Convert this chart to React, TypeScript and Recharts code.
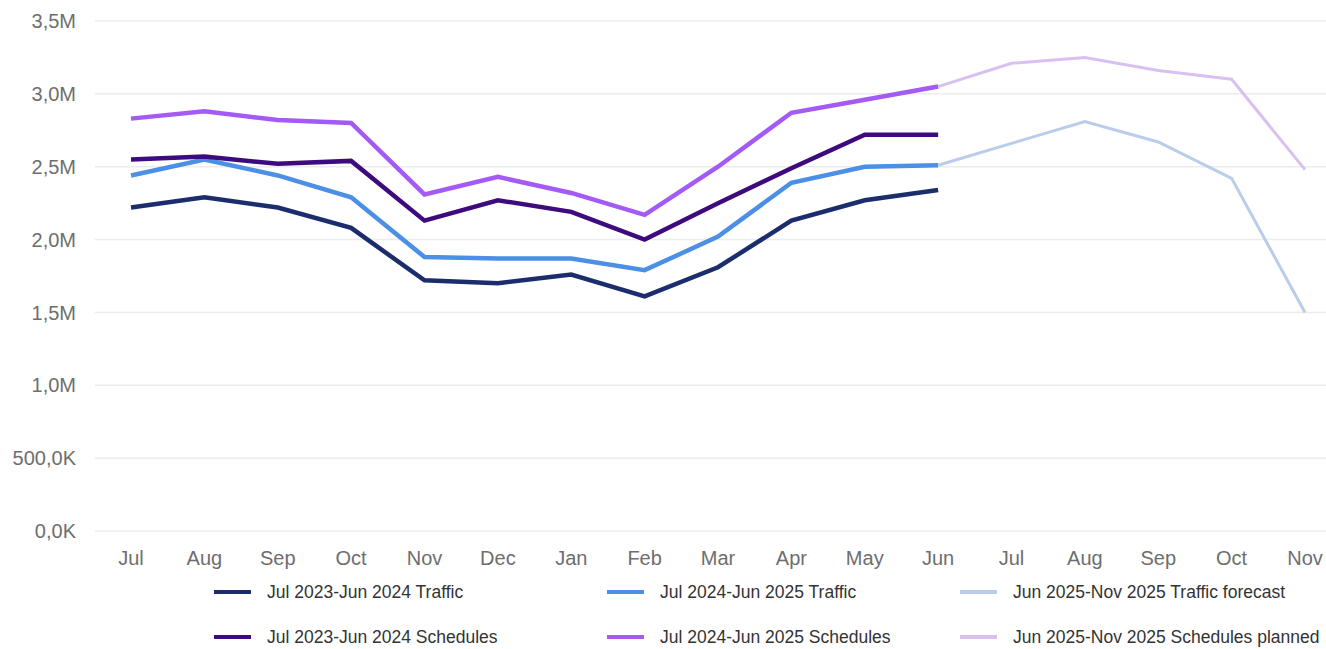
import { LineChart, Line, XAxis, YAxis, CartesianGrid } from "recharts";

const months = ["Jul", "Aug", "Sep", "Oct", "Nov", "Dec", "Jan", "Feb", "Mar", "Apr", "May", "Jun", "Jul", "Aug", "Sep", "Oct", "Nov"];

const traffic2324 = [2220000, 2290000, 2220000, 2080000, 1720000, 1700000, 1760000, 1610000, 1810000, 2130000, 2270000, 2340000, null, null, null, null, null];
const traffic2425 = [2440000, 2550000, 2440000, 2290000, 1880000, 1870000, 1870000, 1790000, 2020000, 2390000, 2500000, 2510000, null, null, null, null, null];
const schedules2324 = [2550000, 2570000, 2520000, 2540000, 2130000, 2270000, 2190000, 2000000, 2250000, 2490000, 2720000, 2720000, null, null, null, null, null];
const schedules2425 = [2830000, 2880000, 2820000, 2800000, 2310000, 2430000, 2320000, 2170000, 2500000, 2870000, 2960000, 3050000, null, null, null, null, null];
const trafficForecast = [null, null, null, null, null, null, null, null, null, null, null, 2510000, 2660000, 2810000, 2670000, 2420000, 1500000];
const schedulesPlanned = [null, null, null, null, null, null, null, null, null, null, null, 3050000, 3210000, 3250000, 3160000, 3100000, 2480000];

const yTicks = [0, 500000, 1000000, 1500000, 2000000, 2500000, 3000000, 3500000];

const series = [
  { key: "t2324", name: "Jul 2023-Jun 2024 Traffic", values: traffic2324, color: "#1c2d6e", width: 4.5 },
  { key: "t2425", name: "Jul 2024-Jun 2025 Traffic", values: traffic2425, color: "#4b8fe6", width: 4.5 },
  { key: "tfc", name: "Jun 2025-Nov 2025 Traffic forecast", values: trafficForecast, color: "#b9cdea", width: 3 },
  { key: "s2324", name: "Jul 2023-Jun 2024 Schedules", values: schedules2324, color: "#3e0b7e", width: 4.5 },
  { key: "s2425", name: "Jul 2024-Jun 2025 Schedules", values: schedules2425, color: "#a45af5", width: 4.5 },
  { key: "spl", name: "Jun 2025-Nov 2025 Schedules planned", values: schedulesPlanned, color: "#d8c1f1", width: 3 },
];

const data = months.map((m, i) => {
  const row: Record<string, string | number | null> = { month: m };
  series.forEach((s) => (row[s.key] = s.values[i]));
  return row;
});

function fmt(v: number) {
  if (v >= 1000000) return `${(v / 1000000).toFixed(1).replace(".", ",")}M`;
  return `${(v / 1000).toFixed(1).replace(".", ",")}K`;
}

// legend slots: three columns, two rows
const legendCols = [214, 607, 960];
const legendRows = [592, 637];

export default function App() {
  return (
    <div style={{ position: "absolute", left: 0, top: 0, width: 1326, height: 649, background: "#fff", fontFamily: "'Liberation Sans', Arial, sans-serif" }}>
      <LineChart width={1326} height={649} data={data} margin={{ top: 21, right: 0, left: 0, bottom: 78 }}>
        <CartesianGrid vertical={false} stroke="#ececec" strokeWidth={1.5} />
        <XAxis
          dataKey="month"
          axisLine={false}
          tickLine={false}
          tickSize={0}
          tickMargin={20}
          height={40}
          interval={0}
          padding={{ left: 36, right: 21 }}
          tick={{ fontSize: 20, fill: "#6e6e6e" }}
        />
        <YAxis
          domain={[0, 3500000]}
          ticks={yTicks}
          tickFormatter={fmt}
          axisLine={false}
          tickLine={false}
          tickSize={0}
          tickMargin={19}
          width={95}
          tick={{ fontSize: 20, fill: "#6e6e6e" }}
        />
        {series.map((s) => (
          <Line
            key={s.key}
            type="linear"
            dataKey={s.key}
            name={s.name}
            stroke={s.color}
            strokeWidth={s.width}
            dot={false}
            activeDot={false}
            isAnimationActive={false}
          />
        ))}
      </LineChart>
      {series.map((s, i) => (
        <div
          key={s.key}
          style={{
            position: "absolute",
            left: legendCols[i % 3],
            top: legendRows[Math.floor(i / 3)] - 11,
            height: 22,
            display: "flex",
            alignItems: "center",
            whiteSpace: "nowrap",
            fontSize: 17.5,
            color: "#333",
          }}
        >
          <span style={{ display: "inline-block", width: 37, height: 4, background: s.color, marginRight: 16 }} />
          {s.name}
        </div>
      ))}
    </div>
  );
}
